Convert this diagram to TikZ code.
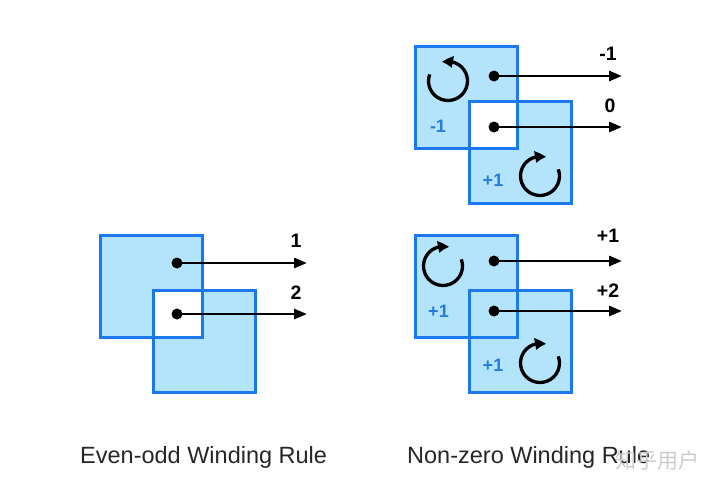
\documentclass[tikz,border=0pt]{standalone}
\usepackage{fontspec}
\setmainfont{Liberation Sans}
\newfontfamily\cjkfont{Noto Sans CJK SC}
\usetikzlibrary{arrows.meta,bending,backgrounds}
\definecolor{boxfill}{RGB}{180,228,252}
\definecolor{boxline}{RGB}{28,120,238}
\definecolor{labblue}{RGB}{38,124,222}
\tikzset{
  sq/.style={draw=boxline, line width=3pt, minimum width=102pt, minimum height=102pt, inner sep=0pt, outer sep=0pt},
  dot/.style={circle, fill=black, minimum size=11pt, inner sep=0pt},
  ray/.style={line width=2.8pt, -{Triangle[length=13pt,width=10pt]}},
  rot/.style={line width=3.3pt, -{Triangle[length=11pt,width=11pt,bend]}},
  lab/.style={font=\bfseries\fontsize{19.5}{22}\selectfont, anchor=base, inner sep=0pt},
  blab/.style={font=\bfseries\fontsize{18}{20}\selectfont, text=labblue, inner sep=0pt},
  captxt/.style={font=\fontsize{23.5}{27}\selectfont, anchor=base west, inner sep=0pt, text=black!85},
}
\begin{document}
\begin{tikzpicture}[x=1pt,y=-1pt]
\useasboundingbox (0,0) rectangle (720,488);
% ---------- Even-odd ----------
\node[sq] (ea) at (151,286) {};
\node[sq] (eb) at (204,341) {};
% ---------- Non-zero top ----------
\node[sq] (ta) at (466,97.5) {};
\node[sq] (tb) at (520.5,152.5) {};
% ---------- Non-zero bottom ----------
\node[sq] (ba) at (466,286) {};
\node[sq] (bb) at (520.5,341) {};
\begin{pgfonlayer}{background}
  \fill[boxfill, even odd rule] (ea.south west) rectangle (ea.north east) (eb.south west) rectangle (eb.north east);
  \fill[boxfill, even odd rule] (ta.south west) rectangle (ta.north east) (tb.south west) rectangle (tb.north east);
  \fill[boxfill] (ba.south west) rectangle (ba.north east) (bb.south west) rectangle (bb.north east);
\end{pgfonlayer}
% even-odd rays
\node[dot] (ed1) at (177,263) {};
\node[dot] (ed2) at (177,314) {};
\coordinate (ee1) at (307,263);
\coordinate (ee2) at (307,314);
\draw[ray] (ed1.center) -- (ee1);
\draw[ray] (ed2.center) -- (ee2);
\node[lab] (el1) at (296,247) {1};
\node[lab] (el2) at (296,299) {2};
% top non-zero rays
\node[dot] (td1) at (494,76) {};
\node[dot] (td2) at (494,127) {};
\coordinate (te1) at (622,76);
\coordinate (te2) at (622,127);
\draw[ray] (td1.center) -- (te1);
\draw[ray] (td2.center) -- (te2);
\node[lab] (tl1) at (608,60) {-1};
\node[lab] (tl2) at (610,112) {0};
% bottom non-zero rays
\node[dot] (bd1) at (494,261) {};
\node[dot] (bd2) at (494,311) {};
\coordinate (be1) at (622,261);
\coordinate (be2) at (622,311);
\draw[ray] (bd1.center) -- (be1);
\draw[ray] (bd2.center) -- (be2);
\node[lab] (bl1) at (608,242) {+1};
\node[lab] (bl2) at (608,297) {+2};
% rotation arrows
\coordinate (tca) at (448,81);
\coordinate (tcb) at (540,176);
\coordinate (bca) at (443,266);
\coordinate (bcb) at (540,363);
\draw[rot] ([shift={(-160:19.5)}]tca) arc[start angle=-160, end angle=-468, radius=19.5];
\draw[rot] ([shift={(-20:19.5)}]tcb) arc[start angle=-20, end angle=288, radius=19.5];
\draw[rot] ([shift={(-20:19.5)}]bca) arc[start angle=-20, end angle=288, radius=19.5];
\draw[rot] ([shift={(-20:19.5)}]bcb) arc[start angle=-20, end angle=288, radius=19.5];
% winding labels
\node[blab] (twa) at (438,126) {-1};
\node[blab] (twb) at (493,180) {+1};
\node[blab] (bwa) at (438.5,311.5) {+1};
\node[blab] (bwb) at (493,365) {+1};
% captions
\node[captxt] (c1) at (80,463) {Even-odd Winding Rule};
\node[captxt] (c2) at (407,463) {Non-zero Winding Rule};
\node[font=\cjkfont\fontsize{21}{24}\selectfont, text=gray!40, inner sep=0pt] (wm) at (657,461) {知乎用户};
\end{tikzpicture}
\end{document}
